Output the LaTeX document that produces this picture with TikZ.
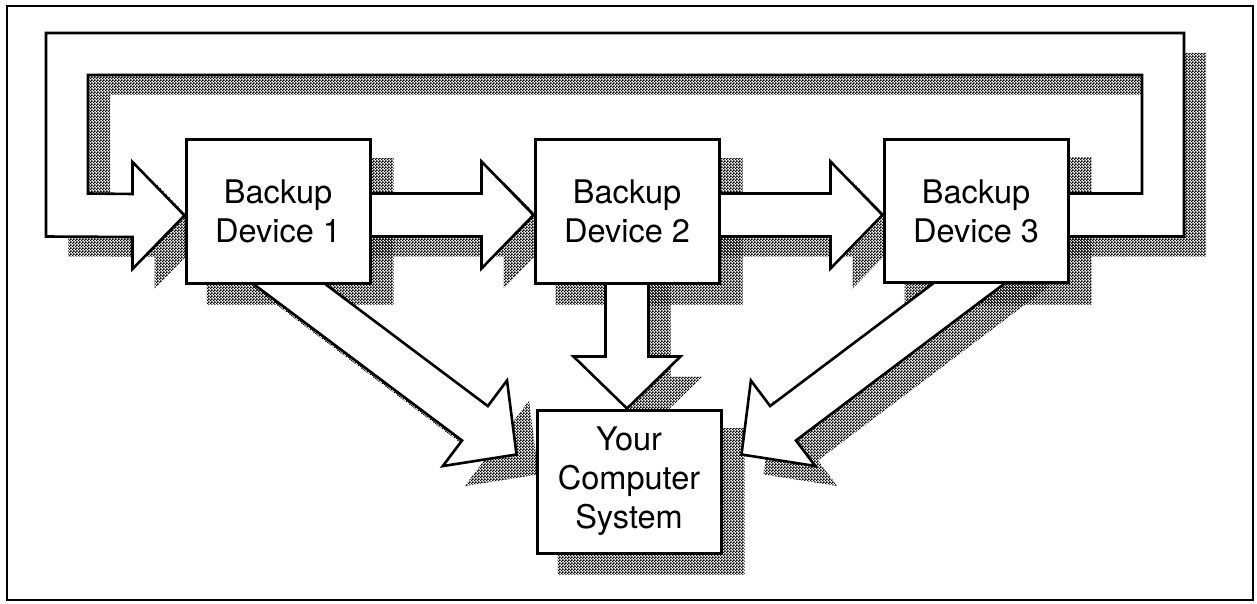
\documentclass[tikz,border=0pt]{standalone}
\usepackage{fontspec}
\setmainfont{TeX Gyre Heros}
\usetikzlibrary{calc,patterns}
\pgfdeclarepatternformonly{stip}{\pgfqpoint{0pt}{0pt}}{\pgfqpoint{3pt}{3pt}}{\pgfqpoint{3pt}{3pt}}{%
 \pgfpathrectangle{\pgfqpoint{0pt}{0pt}}{\pgfqpoint{1.9pt}{1.9pt}}%
 \pgfpathrectangle{\pgfqpoint{1.5pt}{1.5pt}}{\pgfqpoint{1.9pt}{1.9pt}}%
 \pgfusepath{fill}}
\pgfdeclarelayer{shadowlayer}
\pgfdeclarelayer{arrowlayer}
\pgfsetlayers{shadowlayer,arrowlayer,main}
\tikzset{
 box/.style={draw, line width=3pt, fill=white, minimum width=184pt, minimum height=143pt,
   align=center, font=\fontsize{32.5}{39}\selectfont, inner sep=0pt},
 fat/.style={draw, line width=2.6pt, fill=white, line join=miter},
 shade/.style={pattern=stip, pattern color=black, transform canvas={xshift=22pt,yshift=-20pt}},
}
% #1 style, #2 start (inside source box), #3 tip
\newcommand\fatarrow[3]{%
  \coordinate (fa-h) at ($(#3)!52pt!(#2)$);
  \path[#1] ($(#2)!21.5pt!90:(#3)$) -- ($(fa-h)!21.5pt!90:(#3)$) -- ($(fa-h)!53.5pt!90:(#3)$)
    -- (#3) -- ($(fa-h)!53.5pt!-90:(#3)$) -- ($(fa-h)!21.5pt!-90:(#3)$)
    -- ($(#2)!21.5pt!-90:(#3)$) -- cycle;
}
\newcommand\looparrow[1]{%
  \path[#1] ($(ls)+(0,-21.5)$) -- (1142,193.5) -- (1142,75) -- (88,75) -- (88,193.5)
    -- ($(lt)+(-52,-21.5)$) -- ($(lt)+(-52,-53.5)$) -- (lt) -- ($(lt)+(-52,53.5)$)
    -- ($(lt)+(-52,21.5)$) -- (46,236.5) -- (46,33) -- (1184,33) -- (1184,236.5)
    -- ($(ls)+(0,21.5)$) -- cycle;
}
\begin{document}
\begin{tikzpicture}[x=1pt,y=-1pt]
\useasboundingbox (0,0) rectangle (1257,604);
\draw[line width=1.6pt] (7,6) rectangle (1253,600);

\node[box] (b1) at (278,211.5) {Backup\\Device 1};
\node[box] (b2) at (627,211.5) {Backup\\Device 2};
\node[box] (b3) at (976,211) {Backup\\Device 3};
\node[box] (pc) at (629,481.5) {Your\\Computer\\System};

% arrow end points
\coordinate (h1s) at ($(b1.center)+(0,3.5)$);
\coordinate (h1t) at (b2.west |- h1s);
\coordinate (h2s) at ($(b2.center)+(0,3.5)$);
\coordinate (h2t) at (b3.west |- h2s);
\coordinate (ls) at ($(b3.center)+(0,4)$);
\coordinate (lt) at ($(b1.west)+(0,4)$);
\coordinate (d1s) at ($(b1.center)+(-34,38.5)$);
\coordinate (d1t) at ($(pc.west)+(-19,-27)$);
\coordinate (d3s) at ($(b3.center)+(38,38.5)$);
\coordinate (d3t) at ($(pc.east)+(19,-27)$);
\coordinate (v2s) at ($(b2.center)+(0,20)$);
\coordinate (v2t) at (b2.center |- pc.north);

\begin{pgfonlayer}{shadowlayer}
  \foreach \n in {b1,b2,b3,pc}
    \fill[shade] (\n.south west) rectangle (\n.north east);
  \looparrow{shade}
  \fatarrow{shade}{h1s}{h1t}
  \fatarrow{shade}{h2s}{h2t}
  \fatarrow{shade}{d1s}{d1t}
  \fatarrow{shade}{d3s}{d3t}
  \fatarrow{shade}{v2s}{v2t}
\end{pgfonlayer}

\begin{pgfonlayer}{arrowlayer}
  \looparrow{fat}
  \fatarrow{fat}{h1s}{h1t}
  \fatarrow{fat}{h2s}{h2t}
  \fatarrow{fat}{d1s}{d1t}
  \fatarrow{fat}{d3s}{d3t}
  \fatarrow{fat}{v2s}{v2t}
\end{pgfonlayer}
\end{tikzpicture}
\end{document}
